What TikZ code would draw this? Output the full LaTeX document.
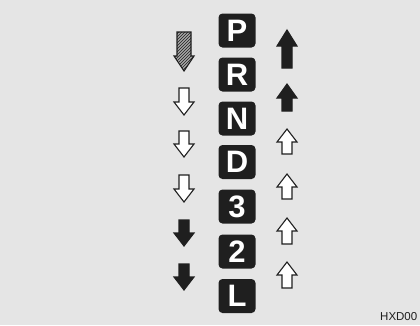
\documentclass[tikz,border=0pt]{standalone}
\usepackage{fontspec}
\setmainfont{Liberation Sans}
\usetikzlibrary{patterns}
\definecolor{bg}{gray}{0.9}
\definecolor{ink}{gray}{0.12}
\tikzset{
  x=1pt,y=-1pt,
  gearbox/.style={fill=ink,rounded corners=4pt,minimum width=37pt,minimum height=34pt,inner sep=0pt,
     text=white,font=\fontsize{31}{31}\selectfont\bfseries},
  whitearr/.style={draw=ink,fill=white,line width=1.1pt,line join=miter},
  blackarr/.style={draw=ink,fill=ink,line width=1.1pt},
  hatcharr/.style={draw=ink,line width=1.1pt,fill=gray!70,postaction={pattern=north east lines,pattern color=ink}},
}
% down arrow: style, x, ytop(tail), ytip, shaft half-width, head length
\newcommand\dArr[6]{\path[#1] (#2-#5,#3) -- (#2+#5,#3) -- (#2+#5,#4-#6) -- (#2+10,#4-#6) -- (#2,#4) -- (#2-10,#4-#6) -- (#2-#5,#4-#6) -- cycle;}
% up arrow: style, x, ytip, ybottom(tail), shaft half-width, head length
\newcommand\uArr[6]{\path[#1] (#2-#5,#4) -- (#2+#5,#4) -- (#2+#5,#3+#6) -- (#2+10,#3+#6) -- (#2,#3) -- (#2-10,#3+#6) -- (#2-#5,#3+#6) -- cycle;}
\begin{document}
\begin{tikzpicture}
\useasboundingbox (0,0) rectangle (420,325);
\clip (0,0) rectangle (420,325);
\fill[bg] (0,0) rectangle (420,325);
% gear boxes
\node[gearbox] (P) at (237,30.5) {P};
\node[gearbox] (R) at (237,74.5) {R};
\node[gearbox] (N) at (237,118.5) {N};
\node[gearbox] (D) at (237,162) {D};
\node[gearbox] (G3) at (237,206.5) {3};
\node[gearbox] (G2) at (237,251.5) {2};
\node[gearbox] (L) at (237,296) {L};
% left column (down arrows)
\dArr{hatcharr}{184}{32}{71}{7}{15}
\dArr{whitearr}{184}{88}{115}{5}{13}
\dArr{whitearr}{184}{131}{157}{5}{13}
\dArr{whitearr}{184}{175}{202}{5}{13}
\dArr{blackarr}{184}{220}{246}{5}{13}
\dArr{blackarr}{184}{264}{290}{5}{13}
% right column (up arrows)
\uArr{blackarr}{287}{30}{68}{5}{16}
\uArr{blackarr}{287}{84}{111}{5}{14}
\uArr{whitearr}{287}{129}{154}{5}{13}
\uArr{whitearr}{287}{174}{199}{5}{13}
\uArr{whitearr}{287}{218}{244}{5}{13}
\uArr{whitearr}{287}{262}{288}{5}{13}
% figure code
\node[anchor=base west,inner sep=0pt,font=\fontsize{11.5}{12}\selectfont,text=ink] (code) at (380,320) {HXD00};
\end{tikzpicture}
\end{document}
